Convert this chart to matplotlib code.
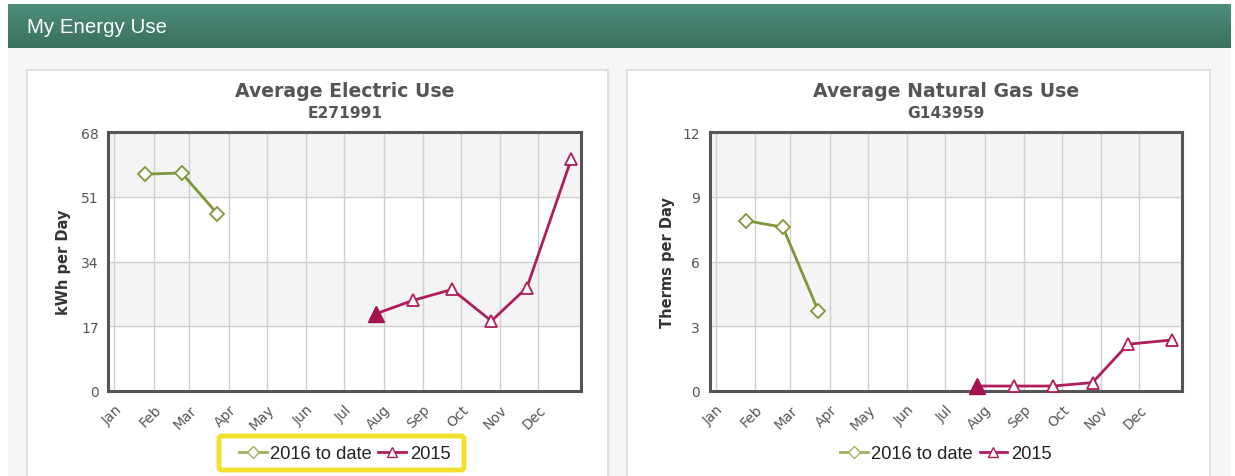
import numpy as np
import pandas as pd
import matplotlib
matplotlib.use("Agg")
import matplotlib.pyplot as plt
from matplotlib.lines import Line2D
from matplotlib.patches import Rectangle, FancyBboxPatch
from matplotlib.colors import LinearSegmentedColormap

# ---------------- data ----------------
months = ['Jan', 'Feb', 'Mar', 'Apr', 'May', 'Jun', 'Jul', 'Aug', 'Sep', 'Oct', 'Nov', 'Dec']
series_names = ['2016 to date', '2015']

# reading dates (month-day), plotted on a common Jan..Dec axis
dates_2016 = ['01-25', '02-23', '03-23']
dates_2015 = ['07-26', '08-24', '09-24', '10-25', '11-22', '12-27']

elec_2016 = [57.0, 57.3, 46.6]
elec_2015 = [20.3, 23.8, 26.7, 18.4, 27.2, 61.0]

gas_2016 = [7.9, 7.6, 3.7]
gas_2015 = [0.23, 0.23, 0.23, 0.39, 2.17, 2.37]

elec_ticks = [0, 17, 34, 51, 68]
gas_ticks = [0, 3, 6, 9, 12]

elec_title, elec_id, elec_ylabel = 'Average Electric Use', 'E271991', 'kWh per Day'
gas_title, gas_id, gas_ylabel = 'Average Natural Gas Use', 'G143959', 'Therms per Day'
header_text = 'My Energy Use'

# ---------------- helpers ----------------
W, H = 1235, 477
base = pd.Timestamp('2015-01-01')


def doy(md_list):
    return [(pd.Timestamp('2015-' + d) - base).days for d in md_list]


month_starts = [(pd.Timestamp(2015, m, 1) - base).days for m in range(1, 13)]

GREEN = '#7d983a'
GREEN_L = '#9bb260'
MAG = '#b01d5c'
TXT = '#555555'

fig = plt.figure(figsize=(W / 100, H / 100), dpi=100)
fig.patch.set_facecolor('white')

# background axes in pixel coordinates
bg = fig.add_axes([0, 0, 1, 1], zorder=-10)
bg.axis('off')

# page area
bg.add_patch(Rectangle((8, 48), 1223, 440, facecolor='#f7f6f4', edgecolor='none'))
# header gradient
grad = np.linspace(0, 1, 100).reshape(-1, 1)
cm = LinearSegmentedColormap.from_list('hdr', ['#4d8d7b', '#3a705f'])
bg.imshow(grad, extent=(8, 1231, 49, 5), cmap=cm, aspect='auto', zorder=1)
bg.set_xlim(0, W)
bg.set_ylim(H, 0)
bg.text(27, 27.5, header_text, color='white', fontsize=14.8, family='Liberation Sans',
        va='center', ha='left', zorder=2)

# panels
for x0, x1 in [(27, 608), (627, 1210)]:
    bg.add_patch(Rectangle((x0, 71), x1 - x0, 420, facecolor='white',
                           edgecolor='#dedcd9', lw=1.2, zorder=2))

# yellow highlight box around left legend
bg.add_patch(FancyBboxPatch((219, 437), 245, 34, boxstyle='round,pad=0,rounding_size=3',
                            facecolor='white', edgecolor='#f2df2e', lw=3.5, zorder=3))

x16 = doy(dates_2016)
x15 = doy(dates_2015)


def make_chart(left_px, y16, y15, ticks, title, ident, ylabel, ylab_x):
    ax_w, top_px, bot_px = 472.6, 133.3, 392.0
    ax = fig.add_axes([left_px / W, 1 - bot_px / H, ax_w / W, (bot_px - top_px) / H])
    ax.set_facecolor('white')
    ymax = ticks[-1]
    step = ticks[1] - ticks[0]
    for i, t in enumerate(ticks[:-1]):
        if i % 2 == 1:
            ax.axhspan(t, t + step, facecolor='#f4f4f4', edgecolor='none', zorder=0)
    ax.set_ylim(0, ymax)
    ax.set_xlim(-4.8, 367.6)
    ax.set_yticks(ticks)
    ax.set_yticklabels([str(t) for t in ticks])
    ax.set_xticks(month_starts)
    ax.set_xticklabels(months, rotation=45, ha='right', va='top', rotation_mode='anchor')
    ax.tick_params(axis='both', length=0, colors=TXT, labelsize=10)
    ax.tick_params(axis='y', pad=7)
    ax.tick_params(axis='x', pad=8)
    ax.grid(True, color='#cfcfcf', lw=1, zorder=1)
    ax.set_axisbelow(True)
    for s in ax.spines.values():
        s.set_color('#555555')
        s.set_linewidth(2.2)

    ax.plot(x16, y16, color=GREEN, lw=2, marker='D', ms=7, mfc='white', mec=GREEN,
            mew=1.3, zorder=4, clip_on=False)
    ax.plot(x15, y15, color=MAG, lw=2, marker='^', ms=8, mfc='white', mec=MAG,
            mew=1.3, zorder=4, clip_on=False)
    ax.plot(x15[:1], y15[:1], linestyle='none', marker='^', ms=12, color='#a3104c',
            zorder=5, clip_on=False)

    ax.set_ylabel(ylabel, fontsize=10.5, fontweight='bold', color='#333333')
    ax.yaxis.set_label_coords(ylab_x, 0.5)

    cx = left_px + ax_w / 2
    bg.text(cx, 91.5, title, ha='center', va='center', fontsize=13.6, fontweight='bold',
            color=TXT, zorder=4)
    bg.text(cx, 113.5, ident, ha='center', va='center', fontsize=11.2, fontweight='bold',
            color=TXT, zorder=4)

    handles = [Line2D([], [], color=GREEN_L, lw=2, marker='D', ms=6, mfc='white', mec=GREEN_L),
               Line2D([], [], color=MAG, lw=2, marker='^', ms=7, mfc='white', mec=MAG)]
    leg = fig.legend(handles, series_names, loc='center', ncol=2,
                     bbox_to_anchor=(cx / W, 1 - 455 / H), frameon=False,
                     prop={'family': 'Liberation Sans', 'size': 13.2},
                     handlelength=1.5, handletextpad=0.2, columnspacing=0.35)
    for t in leg.get_texts():
        t.set_color('#222222')
    return ax


make_chart(108.4, elec_2016, elec_2015, elec_ticks, elec_title, elec_id, elec_ylabel, -0.080)
make_chart(709.5, gas_2016, gas_2015, gas_ticks, gas_title, gas_id, gas_ylabel, -0.073)

fig.savefig('out.png', dpi=100, facecolor='white')
